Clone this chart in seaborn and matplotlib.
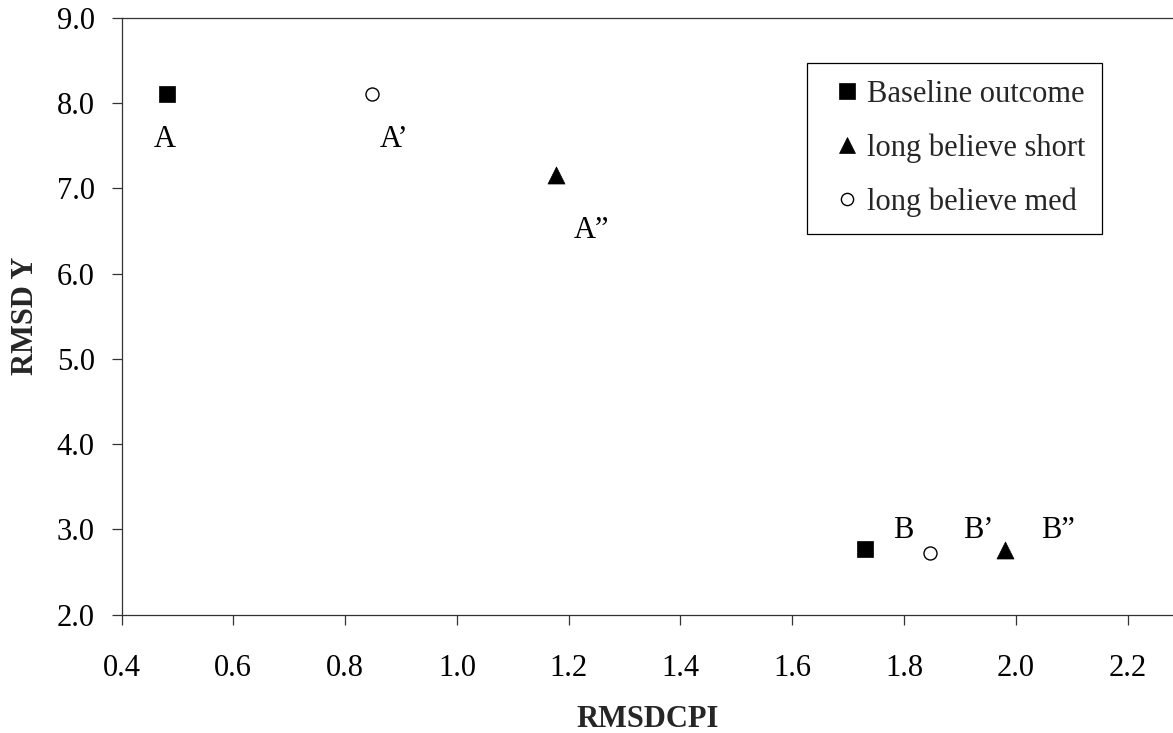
import matplotlib
matplotlib.use("Agg")
import matplotlib.pyplot as plt
import seaborn as sns
import pandas as pd
from matplotlib.lines import Line2D

# ---- data ----
series_names = ["Baseline outcome", "long believe short", "long believe med"]
baseline_x = [0.482, 1.730]
baseline_y = [8.10, 2.767]
short_x = [1.177, 1.981]
short_y = [7.156, 2.757]
med_x = [0.849, 1.846]
med_y = [8.11, 2.727]

point_labels = ["A", "A\u2019", "A\u201d", "B", "B\u2019", "B\u201d"]
label_x = [0.458, 0.862, 1.2095, 1.781, 1.905, 2.045]
label_y = [7.48, 7.48, 6.413, 2.90, 2.90, 2.90]

x_ticks = [0.4, 0.6, 0.8, 1.0, 1.2, 1.4, 1.6, 1.8, 2.0, 2.2]
x_tick_labels = ["0.4", "0.6", "0.8", "1.0", "1.2", "1.4", "1.6", "1.8", "2.0", "2.2"]
y_ticks = [2.0, 3.0, 4.0, 5.0, 6.0, 7.0, 8.0, 9.0]
y_tick_labels = ["2.0", "3.0", "4.0", "5.0", "6.0", "7.0", "8.0", "9.0"]

x_label = "RMSDCPI"
y_label = "RMSD Y"

df = pd.DataFrame({
    "RMSDCPI": baseline_x + short_x + med_x,
    "RMSD Y": baseline_y + short_y + med_y,
    "series": [series_names[0]] * len(baseline_x)
              + [series_names[1]] * len(short_x)
              + [series_names[2]] * len(med_x),
})

# ---- style ----
sns.set_theme(style="ticks")
plt.rcParams["font.family"] = ["Liberation Serif", "DejaVu Serif"]
FS = 22
LINE_C = "#333333"

fig = plt.figure(figsize=(11.73, 7.33), dpi=100)
ax = fig.add_axes([121.5 / 1173, 1 - 614.7 / 733, 1 - 121.5 / 1173, (614.7 - 17.7) / 733])

marker_styles = {
    series_names[0]: dict(marker="s", s=130, color="black", edgecolor="black", linewidth=0.5),
    series_names[1]: dict(marker="^", s=150, color="black", edgecolor="black", linewidth=0.5),
    series_names[2]: dict(marker="o", s=88, color="white", edgecolor="black", linewidth=1.0),
}

for name in series_names:
    sub = df[df["series"] == name]
    sns.scatterplot(data=sub, x="RMSDCPI", y="RMSD Y", ax=ax, legend=False,
                    zorder=3, clip_on=False, **marker_styles[name])

for lx, ly, lt in zip(label_x, label_y, point_labels):
    ax.text(lx, ly, lt, ha="left", va="baseline", fontsize=FS, color="black")

ax.set_xlim(0.4, 2.2 + (1173 - 1127.7) / 559.0)
ax.set_ylim(2.0, 9.0)
ax.set_xticks(x_ticks)
ax.set_xticklabels(x_tick_labels)
ax.set_yticks(y_ticks)
ax.set_yticklabels(y_tick_labels)

ax.tick_params(axis="both", direction="out", length=7.2, width=0.9, color=LINE_C,
               labelsize=FS, labelcolor="black")
ax.tick_params(axis="x", pad=21)
ax.tick_params(axis="y", pad=12)

for side in ["left", "bottom", "top"]:
    ax.spines[side].set_color(LINE_C)
    ax.spines[side].set_linewidth(0.9)
ax.spines["right"].set_visible(False)

ax.set_xlabel(x_label, fontsize=FS, fontweight="bold", labelpad=16)
ax.set_ylabel(y_label, fontsize=FS, fontweight="bold", labelpad=12)

handles = [
    Line2D([], [], linestyle="none", marker="s", markersize=11.2, markerfacecolor="black",
           markeredgecolor="black", markeredgewidth=0.5),
    Line2D([], [], linestyle="none", marker="^", markersize=11.5, markerfacecolor="black",
           markeredgecolor="black", markeredgewidth=0.5),
    Line2D([], [], linestyle="none", marker="o", markersize=8.8, markerfacecolor="white",
           markeredgecolor="black", markeredgewidth=1.0),
]
leg = ax.legend(handles, series_names, loc="upper left",
                bbox_to_anchor=(807.3 / 1173, 1 - 63.3 / 733), bbox_transform=fig.transFigure,
                fontsize=FS, frameon=True, fancybox=False, shadow=False,
                borderpad=0.55, handlelength=1.5, handletextpad=-0.1, labelspacing=0.8,
                borderaxespad=0)
frame = leg.get_frame()
frame.set_edgecolor("black")
frame.set_linewidth(0.9)
frame.set_facecolor("white")
frame.set_alpha(1)

fig.savefig("out.png", dpi=100)
